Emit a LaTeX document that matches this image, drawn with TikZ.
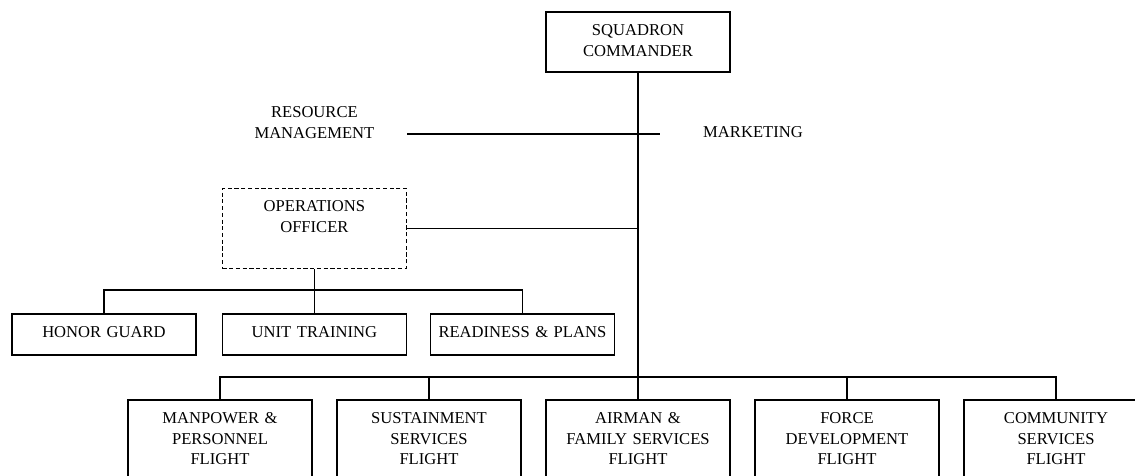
\documentclass[tikz,border=0pt]{standalone}
\usepackage{fontspec}
\setmainfont{Liberation Serif}
\usepackage{tikz}
\tikzset{unit/.style={rectangle,draw,line width=1.2pt,inner sep=0pt,text width=4.6cm,align=center,font=\fontsize{11.8pt}{14.6pt}\selectfont,text height=0.5875cm,text depth=#1}}
\tikzset{blank/.style={unit=#1,draw=none}}
\tikzset{link/.style={line width=1.2pt}}

\begin{document}
\begin{tikzpicture}
    \useasboundingbox (0,0) rectangle (28.375,11.9);
    \clip (0,0) rectangle (28.375,11.9);

    \node[unit=0.9125cm] (sq)at (15.95,10.85) {SQUADRON\\COMMANDER};
    \node[blank=1.4125cm] (rm)at (7.86,8.55) {RESOURCE\\MANAGEMENT};
    \node[blank=1.4125cm] (mk)at (18.825,8.0575) {MARKETING};
    \node[unit=1.4125cm,dash pattern=on 3pt off 1.8pt] (ops)at (7.86,6.19) {OPERATIONS\\OFFICER};

    \node[unit=0.4325cm] (hg)at (2.6,3.5325) {HONOR GUARD};
    \node[unit=0.4325cm] (ut)at (7.86,3.5325) {UNIT TRAINING};
    \node[unit=0.4325cm] (rp)at (13.06,3.5325) {READINESS \& PLANS};

    \node[unit=1.5125cm] (mp)at (5.5,0.85) {MANPOWER \&\\PERSONNEL\\FLIGHT};
    \node[unit=1.5125cm] (ss)at (10.725,0.85) {SUSTAINMENT\\SERVICES\\FLIGHT};
    \node[unit=1.5125cm] (af)at (15.95,0.85) {AIRMAN \&\\FAMILY SERVICES\\FLIGHT};
    \node[unit=1.5125cm] (fd)at (21.175,0.85) {FORCE\\DEVELOPMENT\\FLIGHT};
    \node[unit=1.5125cm] (cs)at (26.4,0.85) {COMMUNITY\\SERVICES\\FLIGHT};

    \coordinate (obus) at (7.86,4.65);
    \coordinate (fbus) at (15.95,2.4825);

    \draw [link] (sq.south) -- (af.north);
    \draw [link] (rm.east) -- (rm.east -| mk.west);
    \draw [link] (ops.east) -- (ops.east -| sq.south);

    \draw [link] (ops.south) -- (ut.north);
    \draw [link] (hg.north) |- (obus);
    \draw [link] (rp.north) |- (obus);

    \draw [link] (mp.north) |- (fbus);
    \draw [link] (ss.north) |- (fbus);
    \draw [link] (fd.north) |- (fbus);
    \draw [link] (cs.north) |- (fbus);
\end{tikzpicture}
\end{document}
